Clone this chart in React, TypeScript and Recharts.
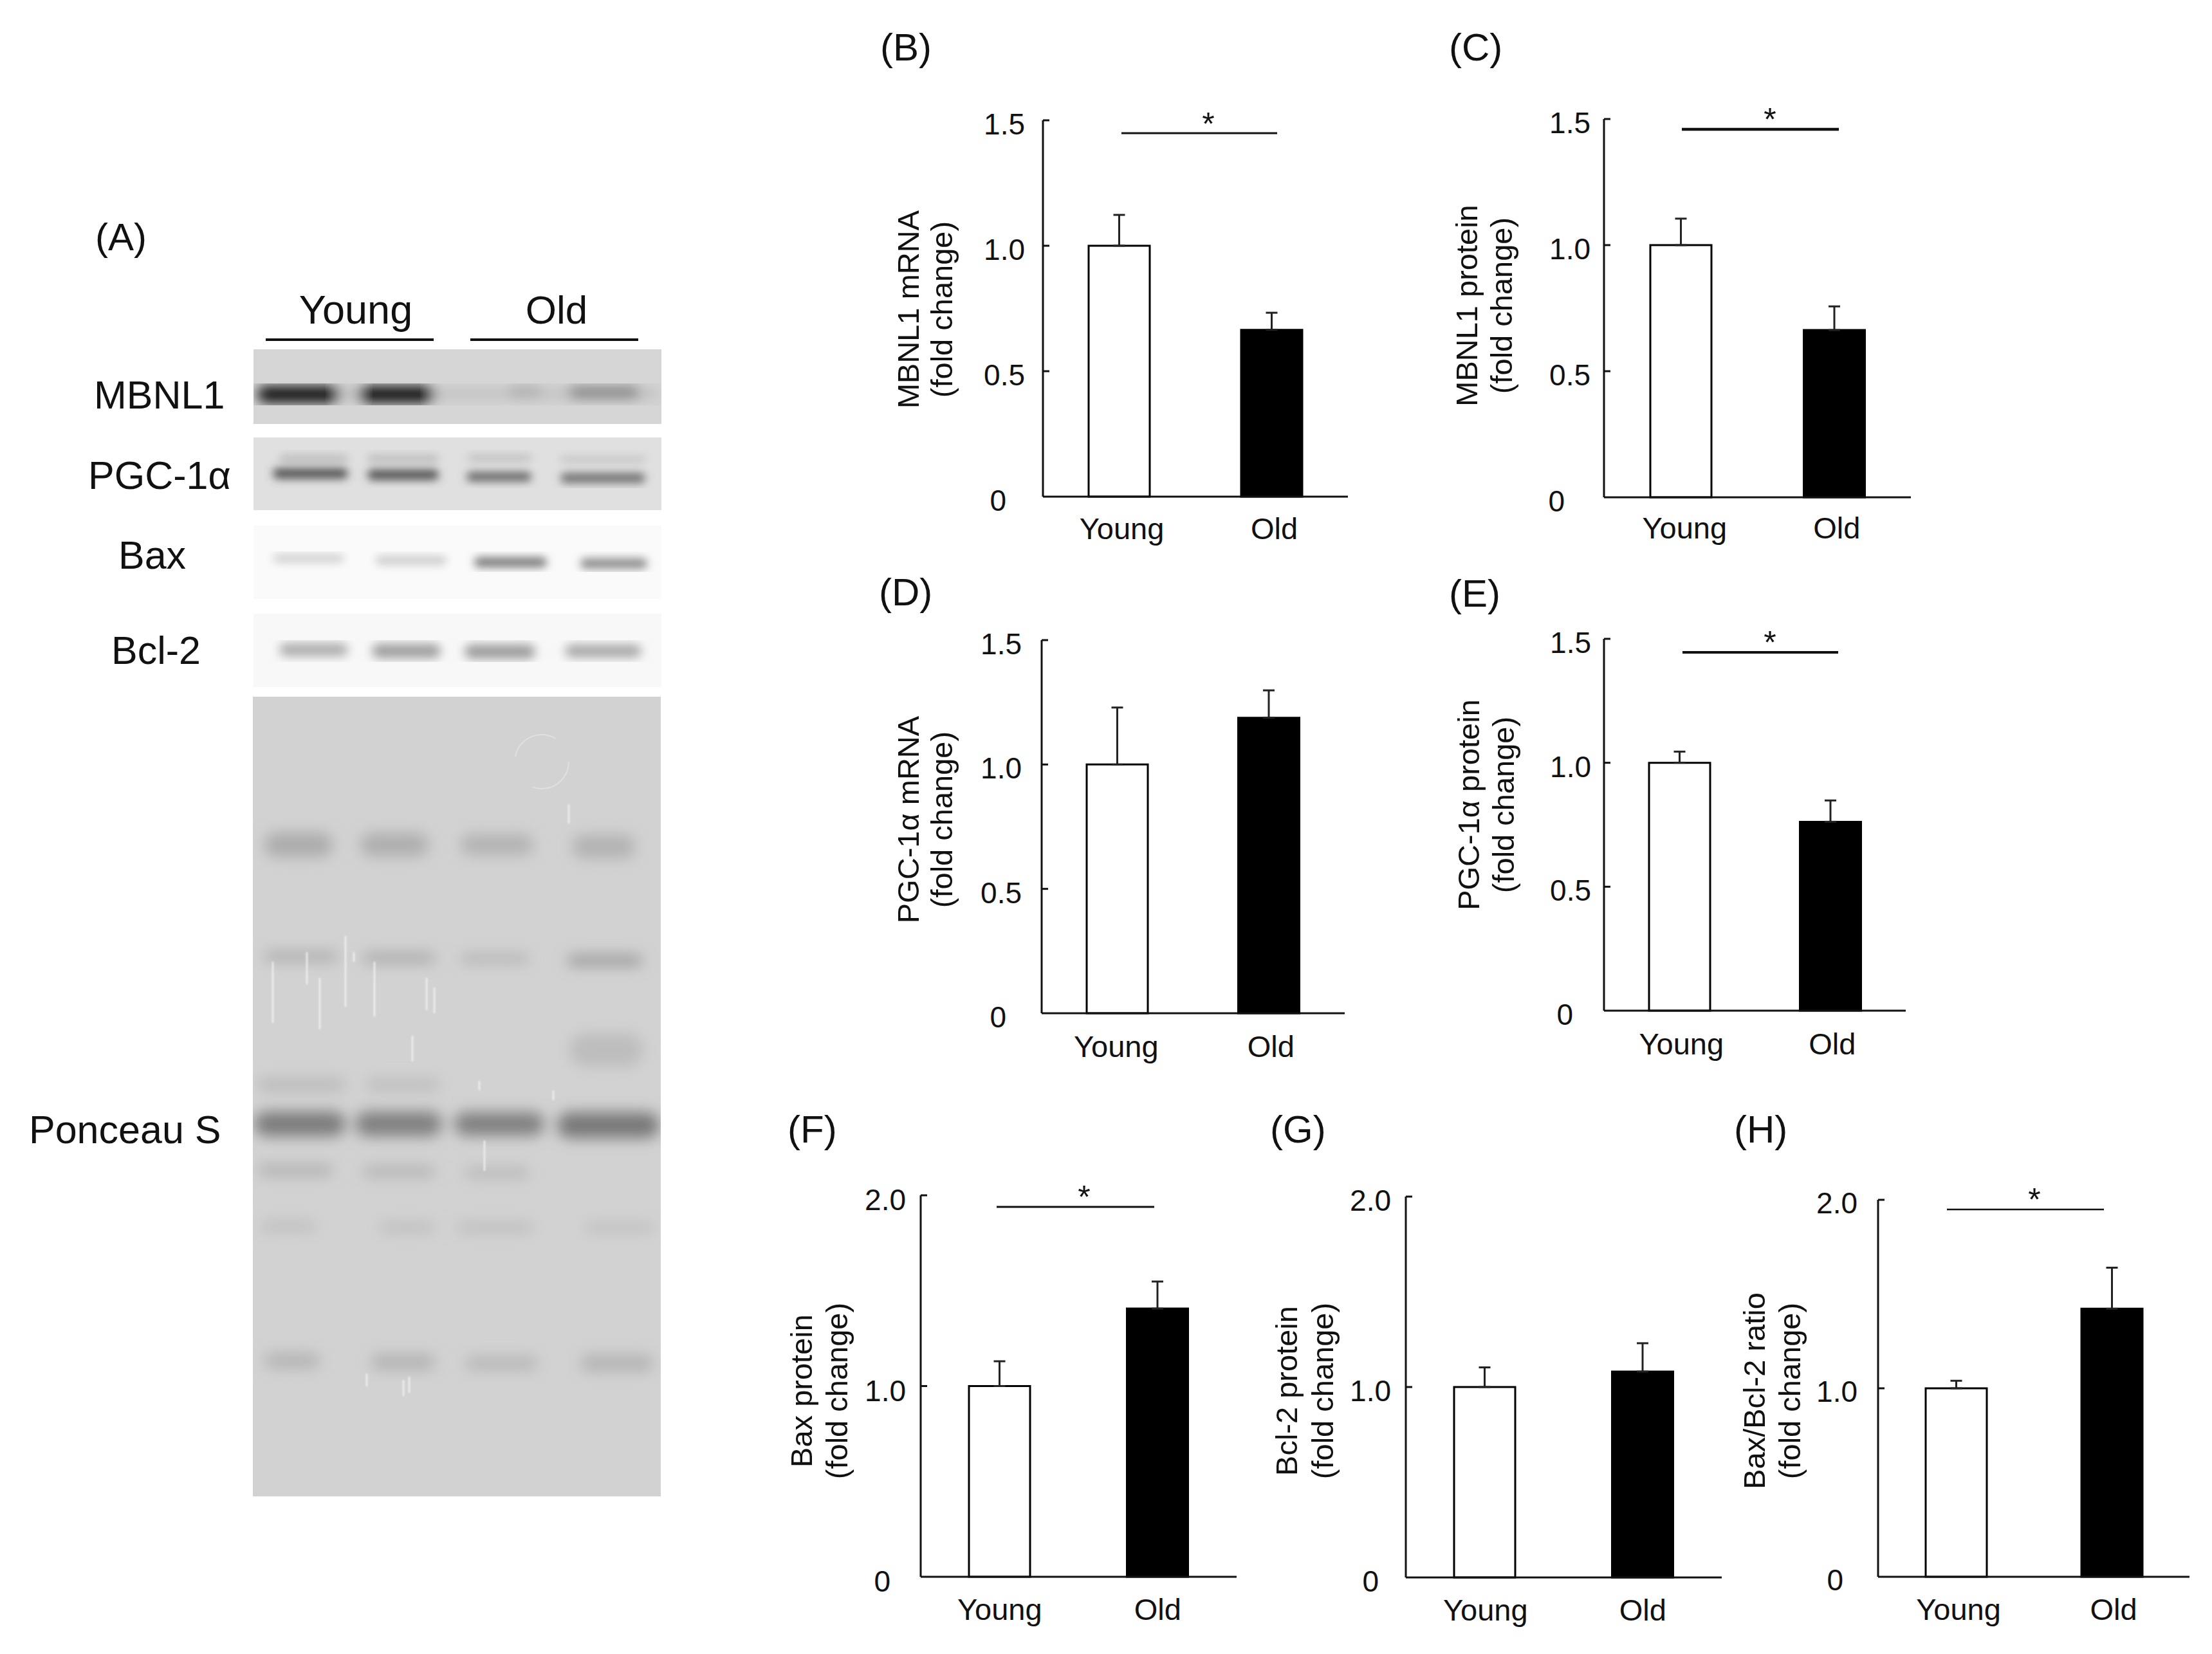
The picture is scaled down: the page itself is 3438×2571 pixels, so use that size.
import React from "react";
import { BarChart, Bar, Cell, ErrorBar, XAxis, YAxis } from "recharts";

const FONT = '"Liberation Sans", Arial, sans-serif';
const INK = "#111";

const categories = ["Young", "Old"];
const ticks15 = [0, 0.5, 1, 1.5];
const ticks20 = [0, 1, 2];

const mbnl1Mrna = [1.0, 0.665];
const mbnl1MrnaErr = [0.123, 0.068];
const mbnl1Protein = [1.0, 0.663];
const mbnl1ProteinErr = [0.105, 0.094];
const pgcMrna = [1.0, 1.188];
const pgcMrnaErr = [0.229, 0.11];
const pgcProtein = [1.0, 0.762];
const pgcProteinErr = [0.045, 0.086];
const baxProtein = [1.0, 1.406];
const baxProteinErr = [0.13, 0.142];
const bcl2Protein = [1.0, 1.081];
const bcl2ProteinErr = [0.103, 0.149];
const baxBcl2 = [1.0, 1.422];
const baxBcl2Err = [0.04, 0.218];

// page layout of each panel, in px of the 3438x2571 figure
const panels = [
  {
    letter: "(B)", letterX: 1368, letterY: 94,
    values: mbnl1Mrna, errors: mbnl1MrnaErr, ticks: ticks15,
    axisX: 1621, top: 187, base: 772, right: 2095,
    tickDx: 28, zeroDx: 57, tickDy: 6, xDx: [4, 4], xBaseline: 838,
    yLabel: "MBNL1 mRNA", yX1: 1428, yX2: 1480, yC: 481,
    sig: { x1: 1743, x2: 1985, y: 207, w: 3, starX: 1878, starY: 182 },
  },
  {
    letter: "(C)", letterX: 2252, letterY: 94,
    values: mbnl1Protein, errors: mbnl1ProteinErr, ticks: ticks15,
    axisX: 2493, top: 185, base: 773, right: 2970,
    tickDx: 21, zeroDx: 61, tickDy: 6, xDx: [6, 4], xBaseline: 837,
    yLabel: "MBNL1 protein", yX1: 2296, yX2: 2350, yC: 475,
    sig: { x1: 2614, x2: 2858, y: 201, w: 4.5, starX: 2751, starY: 175 },
  },
  {
    letter: "(D)", letterX: 1366, letterY: 941,
    values: pgcMrna, errors: pgcMrnaErr, ticks: ticks15,
    axisX: 1619, top: 995, base: 1575, right: 2090,
    tickDx: 31, zeroDx: 55, tickDy: 6, xDx: [-2, 3], xBaseline: 1643,
    yLabel: "PGC-1\u03b1 mRNA", yX1: 1428, yX2: 1480, yC: 1274,
  },
  {
    letter: "(E)", letterX: 2252, letterY: 943,
    values: pgcProtein, errors: pgcProteinErr, ticks: ticks15,
    axisX: 2493, top: 993, base: 1571, right: 2962,
    tickDx: 20, zeroDx: 48, tickDy: 6, xDx: [3, 3], xBaseline: 1639,
    yLabel: "PGC-1\u03b1 protein", yX1: 2299, yX2: 2353, yC: 1251,
    sig: { x1: 2615, x2: 2857, y: 1014, w: 4, starX: 2751, starY: 988 },
  },
  {
    letter: "(F)", letterX: 1224, letterY: 1776,
    values: baxProtein, errors: baxProteinErr, ticks: ticks20,
    axisX: 1431, top: 1858, base: 2451, right: 1922,
    tickDx: 23, zeroDx: 47, tickDy: 7, xDx: [0, 0], xBaseline: 2518,
    yLabel: "Bax protein", yX1: 1262, yX2: 1317, yC: 2162,
    sig: { x1: 1549, x2: 1794, y: 1876, w: 3, starX: 1685, starY: 1850 },
  },
  {
    letter: "(G)", letterX: 1974, letterY: 1776,
    values: bcl2Protein, errors: bcl2ProteinErr, ticks: ticks20,
    axisX: 2185, top: 1860, base: 2452, right: 2676,
    tickDx: 23, zeroDx: 42, tickDy: 6, xDx: [1, 0], xBaseline: 2519,
    yLabel: "Bcl-2 protein", yX1: 2016, yX2: 2072, yC: 2162,
  },
  {
    letter: "(H)", letterX: 2695, letterY: 1776,
    values: baxBcl2, errors: baxBcl2Err, ticks: ticks20,
    axisX: 2919, top: 1865, base: 2451, right: 3403,
    tickDx: 32, zeroDx: 54, tickDy: 5, xDx: [4, 3], xBaseline: 2518,
    yLabel: "Bax/Bcl-2 ratio", yX1: 2743, yX2: 2798, yC: 2162,
    sig: { x1: 3026, x2: 3270, y: 1880, w: 2.5, starX: 3162, starY: 1854 },
  },
];

const PAD_LEFT = 120;
const PAD_TOP = 20;
const PAD_RIGHT = 20;
const PAD_BOTTOM = 110;

function Panel({ p }: { p: (typeof panels)[number] }) {
  const data = categories.map((name, i) => ({
    name,
    value: p.values[i],
    err: [0, p.errors[i]],
  }));
  const plotW = p.right - p.axisX;
  const plotH = p.base - p.top;

  const YTick = ({ x, y, payload }: any) => {
    const v = payload.value;
    return (
      <g>
        {v !== 0 && <line x1={x} x2={x + 10} y1={y} y2={y} stroke={INK} strokeWidth={3} />}
        <text
          x={x - (v === 0 ? p.zeroDx : p.tickDx)}
          y={y + p.tickDy + 16}
          textAnchor="end"
          fontSize={46}
          fontFamily={FONT}
          fill={INK}
        >
          {v === 0 ? "0" : v.toFixed(1)}
        </text>
      </g>
    );
  };

  const XTick = ({ x, y, payload, index }: any) => (
    <text
      x={x + p.xDx[index]}
      y={p.xBaseline - p.base + y}
      textAnchor="middle"
      fontSize={47}
      fontFamily={FONT}
      fill={INK}
    >
      {payload.value}
    </text>
  );

  return (
    <div style={{ position: "absolute", left: p.axisX - PAD_LEFT, top: p.top - PAD_TOP }}>
      <BarChart
        width={PAD_LEFT + plotW + PAD_RIGHT}
        height={PAD_TOP + plotH + PAD_BOTTOM}
        data={data}
        margin={{ top: PAD_TOP, right: PAD_RIGHT, bottom: 0, left: 0 }}
      >
        <XAxis
          dataKey="name"
          height={PAD_BOTTOM}
          interval={0}
          tickSize={0}
          tickMargin={0}
          tickLine={false}
          axisLine={{ stroke: INK, strokeWidth: 3 }}
          tick={XTick}
        />
        <YAxis
          type="number"
          width={PAD_LEFT}
          domain={[0, p.ticks[p.ticks.length - 1]]}
          ticks={p.ticks}
          interval={0}
          tickSize={0}
          tickMargin={0}
          tickLine={false}
          axisLine={{ stroke: INK, strokeWidth: 3 }}
          tick={YTick}
        />
        <Bar dataKey="value" barSize={95} isAnimationActive={false}>
          {data.map((d, i) => (
            <Cell key={d.name} fill={i === 0 ? "#fff" : "#000"} stroke="#000" strokeWidth={3} />
          ))}
          <ErrorBar
            dataKey="err"
            width={9}
            stroke="#222"
            strokeWidth={3}
            direction="y"
            isAnimationActive={false}
          />
        </Bar>
      </BarChart>
    </div>
  );
}

// the western blot photo in panel A, stood in for by blurred bands
type Band = [number, number, number, number, string];

const blotStrips = [
  {
    x: 394, y: 543, w: 634, h: 116, bg: "#d5d5d5", blur: 10,
    bands: [
      [480, 1028, 612, 18, "#c2c2c2"],
      [400, 529, 613, 24, "#000"],
      [556, 676, 613, 24, "#000"],
      [792, 841, 608, 14, "#a4a4a4"],
      [884, 994, 610, 16, "#757575"],
    ] as Band[],
  },
  {
    x: 394, y: 680, w: 634, h: 113, bg: "#e0e0e0", blur: 7,
    bands: [
      [434, 541, 713, 10, "#b4b4b4"],
      [571, 682, 713, 10, "#b4b4b4"],
      [727, 826, 712, 8, "#b4b4b4"],
      [871, 1003, 714, 7, "#b8b8b8"],
      [424, 541, 736, 16, "#505050"],
      [571, 682, 738, 16, "#505050"],
      [725, 826, 741, 14, "#606060"],
      [871, 1003, 743, 15, "#6c6c6c"],
    ] as Band[],
  },
  {
    x: 394, y: 817, w: 634, h: 114, bg: "#fafafa", blur: 7,
    bands: [
      [424, 535, 868, 12, "#cccccc"],
      [584, 694, 871, 13, "#c8c8c8"],
      [737, 850, 874, 15, "#747474"],
      [902, 1006, 876, 16, "#8a8a8a"],
    ] as Band[],
  },
  {
    x: 394, y: 954, w: 634, h: 114, bg: "#f8f8f8", blur: 8,
    bands: [
      [434, 541, 1010, 20, "#aaaaaa"],
      [578, 685, 1012, 22, "#9c9c9c"],
      [722, 832, 1013, 22, "#9a9a9a"],
      [878, 997, 1012, 20, "#a6a6a6"],
    ] as Band[],
  },
  {
    x: 393, y: 1083, w: 634, h: 1243, bg: "#d2d2d2", blur: 11,
    bands: [
      [411, 517, 1313, 38, "#acacac"],
      [560, 666, 1313, 36, "#aeaeae"],
      [716, 829, 1313, 32, "#b2b2b2"],
      [889, 988, 1316, 36, "#b2b2b2"],
      [411, 525, 1487, 14, "#a8a8a8"],
      [564, 676, 1489, 14, "#a4a4a4"],
      [716, 822, 1490, 12, "#adadad"],
      [882, 998, 1493, 16, "#989898"],
      [885, 1000, 1632, 52, "#bdbdbd"],
      [400, 537, 1686, 20, "#bababa"],
      [570, 683, 1686, 18, "#bcbcbc"],
      [395, 537, 1747, 38, "#7c7c7c"],
      [552, 687, 1747, 38, "#808080"],
      [706, 846, 1747, 36, "#808080"],
      [866, 1025, 1749, 40, "#787878"],
      [401, 517, 1819, 16, "#aeaeae"],
      [564, 676, 1821, 16, "#b2b2b2"],
      [723, 822, 1823, 14, "#b4b4b4"],
      [405, 491, 1906, 16, "#bebebe"],
      [590, 676, 1908, 16, "#bebebe"],
      [710, 829, 1908, 16, "#bebebe"],
      [909, 1015, 1908, 16, "#c0c0c0"],
      [411, 497, 2115, 24, "#b4b4b4"],
      [577, 676, 2117, 24, "#b2b2b2"],
      [723, 836, 2119, 20, "#b6b6b6"],
      [902, 1015, 2119, 26, "#b4b4b4"],
    ] as Band[],
  },
];

const blotScratches = [
  [424, 1495, 1590], [477, 1480, 1530], [497, 1520, 1600], [537, 1455, 1565],
  [550, 1480, 1495], [582, 1495, 1580], [663, 1520, 1570], [675, 1535, 1575],
  [641, 1610, 1650], [753, 1773, 1820], [745, 1680, 1695], [860, 1695, 1710],
  [884, 1250, 1280], [636, 2140, 2165], [627, 2145, 2170], [570, 2135, 2155],
];

function Blot() {
  return (
    <svg width={3438} height={2571} style={{ position: "absolute", left: 0, top: 0 }}>
      <defs>
        {blotStrips.map((s, i) => (
          <React.Fragment key={i}>
            <clipPath id={`strip${i}`}>
              <rect x={s.x} y={s.y} width={s.w} height={s.h} />
            </clipPath>
            <filter id={`blur${i}`} x="-20%" y="-20%" width="140%" height="140%">
              <feGaussianBlur stdDeviation={s.blur} />
            </filter>
          </React.Fragment>
        ))}
        <filter id="scratchBlur" x="-200%" y="-20%" width="500%" height="140%">
          <feGaussianBlur stdDeviation={1.2} />
        </filter>
      </defs>
      {blotStrips.map((s, i) => (
        <g key={i} clipPath={`url(#strip${i})`}>
          <rect x={s.x} y={s.y} width={s.w} height={s.h} fill={s.bg} />
          <g filter={`url(#blur${i})`}>
            {s.bands.map(([x1, x2, y, h, c], j) => (
              <rect key={j} x={x1} y={y - h / 2} width={x2 - x1} height={h} rx={h / 2} fill={c} />
            ))}
          </g>
        </g>
      ))}
      <g filter="url(#scratchBlur)">
        {blotScratches.map(([x, y1, y2], i) => (
          <line key={i} x1={x} x2={x} y1={y1} y2={y2} stroke="#f4f4f4" strokeWidth={3} opacity={0.75} />
        ))}
      </g>
      <circle cx={842} cy={1184} r={42} fill="none" stroke="#e0e0e0" strokeWidth={2} strokeDasharray="80 60" />
    </svg>
  );
}

const blotLabels: [string, number, number][] = [
  ["MBNL1", 146, 635],
  ["PGC-1\u03b1", 137, 760],
  ["Bax", 184, 884],
  ["Bcl-2", 173, 1032],
  ["Ponceau S", 45, 1777],
];

function Annotations() {
  const txt = { fontFamily: FONT, fill: INK };
  return (
    <svg width={3438} height={2571} style={{ position: "absolute", left: 0, top: 0, pointerEvents: "none" }}>
      <text x={148} y={389} fontSize={60} {...txt}>(A)</text>
      <text x={553} y={503} fontSize={63} textAnchor="middle" {...txt}>Young</text>
      <text x={865} y={503} fontSize={62} textAnchor="middle" {...txt}>Old</text>
      <line x1={413} x2={674} y1={528} y2={528} stroke={INK} strokeWidth={4} />
      <line x1={731} x2={992} y1={528} y2={528} stroke={INK} strokeWidth={4} />
      {blotLabels.map(([t, x, y]) => (
        <text key={t} x={x} y={y} fontSize={61} {...txt}>{t}</text>
      ))}
      {panels.map((p) => (
        <g key={p.letter}>
          <text x={p.letterX} y={p.letterY} fontSize={60} {...txt}>{p.letter}</text>
          <text
            x={p.yX1}
            y={p.yC}
            transform={`rotate(-90 ${p.yX1} ${p.yC})`}
            textAnchor="middle"
            fontSize={47}
            {...txt}
          >
            {p.yLabel}
          </text>
          <text
            x={p.yX2}
            y={p.yC}
            transform={`rotate(-90 ${p.yX2} ${p.yC})`}
            textAnchor="middle"
            fontSize={47}
            {...txt}
          >
            (fold change)
          </text>
          {p.sig && (
            <g>
              <line x1={p.sig.x1} x2={p.sig.x2} y1={p.sig.y} y2={p.sig.y} stroke={INK} strokeWidth={p.sig.w} />
              <text x={p.sig.starX} y={p.sig.starY + 28} fontSize={50} textAnchor="middle" {...txt}>*</text>
            </g>
          )}
        </g>
      ))}
    </svg>
  );
}

export default function App() {
  return (
    <div
      style={{
        position: "absolute",
        left: 0,
        top: 0,
        width: 3438,
        height: 2571,
        background: "#fff",
        overflow: "hidden",
      }}
    >
      <Blot />
      {panels.map((p) => (
        <Panel key={p.letter} p={p} />
      ))}
      <Annotations />
    </div>
  );
}
